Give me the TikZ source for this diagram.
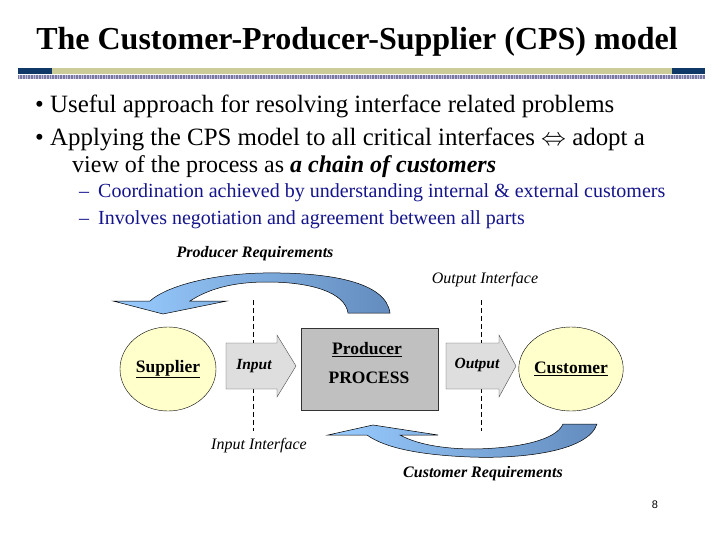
\documentclass[tikz,border=0pt]{standalone}
\usepackage{fontspec}
\setmainfont{Liberation Serif}
\newfontfamily\pagefont{Liberation Sans}
\usetikzlibrary{shapes.geometric}
\definecolor{navybar}{RGB}{16,56,104}
\definecolor{khaki}{RGB}{204,204,153}
\definecolor{stripe}{RGB}{150,150,200}
\definecolor{subblue}{RGB}{20,20,140}
\definecolor{lightblue}{RGB}{153,204,255}
\definecolor{steelblue}{RGB}{100,140,190}
\definecolor{cream}{RGB}{255,255,204}
\definecolor{procgray}{RGB}{192,192,192}
\definecolor{arrowgray}{RGB}{222,222,222}
\tikzset{
  bigtext/.style={anchor=base west, inner sep=0pt, font=\fontsize{24.9}{28}\selectfont},
  subtext/.style={anchor=base west, inner sep=0pt, text=subblue, font=\fontsize{20}{24}\selectfont},
  party/.style={ellipse, draw=black, fill=cream, minimum width=96pt, minimum height=84pt, inner sep=0pt, font=\bfseries\fontsize{17.5}{20}\selectfont},
  proctext/.style={inner sep=0pt, font=\bfseries\fontsize{17.5}{20}\selectfont},
  blockarrow/.style={draw=black!70, fill=arrowgray},
  arrowlbl/.style={inner sep=0pt, font=\bfseries\itshape\fontsize{15.5}{18}\selectfont},
  reqlbl/.style={inner sep=0pt, font=\bfseries\itshape\fontsize{16}{19}\selectfont},
  iflbl/.style={inner sep=0pt, font=\itshape\fontsize{16}{19}\selectfont},
  ifline/.style={dash pattern=on 5pt off 3pt, line width=0.7pt},
  curvarrow/.style={draw=black, line width=0.5pt, left color=lightblue, right color=steelblue}
}
\begin{document}
\begin{tikzpicture}[x=1pt,y=-1pt]
\useasboundingbox (0,0) rectangle (720,540);
% title
\node[anchor=base, inner sep=0pt, font=\bfseries\fontsize{32}{36}\selectfont] (title) at (357,50) {The Customer-Producer-Supplier (CPS) model};
% bars
\fill[navybar] (18,68) rectangle (52,74);
\fill[khaki] (52,68) rectangle (672,74);
\fill[navybar] (672,68) rectangle (705,74);
\fill[stripe!60] (18,75) rectangle (705,79);
\draw[stripe!80!black, line width=4pt, dash pattern=on 0.8pt off 0.8pt] (18,77) -- (705,77);
% bullets
\node[bigtext] (dot1) at (35,113) {\textbullet};
\node[bigtext] (b1) at (50,113) {Useful approach for resolving interface related problems};
\node[bigtext] (dot2) at (35,146) {\textbullet};
\node[bigtext] (b2) at (50,146) {Applying the CPS model to all critical interfaces $\Leftrightarrow$ adopt a};
\node[bigtext, font=\fontsize{24}{28}\selectfont] (b3) at (72,173) {view of the process as \textbf{\textit{a chain of customers}}};
\node[subtext] (dash1) at (79,198) {--};
\node[subtext] (s1) at (98,198) {Coordination achieved by understanding internal \& external customers};
\node[subtext] (dash2) at (79,225) {--};
\node[subtext] (s2) at (98,225) {Involves negotiation and agreement between all parts};
% interface lines
\coordinate (inTop) at (253,300);
\coordinate (inBot) at (253,431);
\coordinate (outTop) at (481,300);
\coordinate (outBot) at (481,431);
\draw[ifline] (inTop) -- (inBot);
\draw[ifline] (outTop) -- (outBot);
% producer requirements arrow
\path[curvarrow] (390,313) .. controls (386,282) and (330,272) .. (263,273)
  .. controls (210,274) and (165,287) .. (150,301)
  -- (113,301) -- (163,314) -- (227,301) -- (190,301)
  .. controls (210,288) and (235,282) .. (267,282)
  .. controls (310,282) and (345,292) .. (348,313) -- cycle;
% customer requirements arrow
\path[curvarrow] (597,424) .. controls (588,452) and (520,459) .. (470,457)
  .. controls (420,455) and (385,448) .. (367,435)
  -- (328,435) -- (373,425) -- (438,435) -- (400,435)
  .. controls (420,446) and (450,449) .. (475,449)
  .. controls (520,448) and (556,440) .. (563,424) -- cycle;
% parties
\node[party] (sup) at (168,369) {\underline{Supplier}};
\node[party] (cus) at (571,369) {\underline{Customer}};
\node[draw=black!80, fill=procgray, minimum width=137pt, minimum height=82pt, inner sep=0pt] (proc) at (369.5,369) {};
\node[proctext] (procname) at (367,350) {\underline{Producer}};
\node[proctext] (proctxt) at (369,378) {PROCESS};
% block arrows
\path[blockarrow] (226,343) -- (277,343) -- (277,335) -- (296,366) -- (277,397) -- (277,389) -- (226,389) -- cycle;
\node[arrowlbl] (inlbl) at (254,366) {Input};
\path[blockarrow] (446,343) -- (499,343) -- (499,335) -- (516,366) -- (499,397) -- (499,389) -- (446,389) -- cycle;
\node[arrowlbl] (outlbl) at (477,365) {Output};
% labels
\node[reqlbl] (preq) at (255,254) {Producer Requirements};
\node[iflbl] (oif) at (485,280) {Output Interface};
\node[iflbl] (iif) at (259,446) {Input Interface};
\node[reqlbl] (creq) at (483,474) {Customer Requirements};
\node[inner sep=0pt, font=\pagefont\fontsize{11}{13}\selectfont] (page) at (655,505) {8};
\end{tikzpicture}
\end{document}
